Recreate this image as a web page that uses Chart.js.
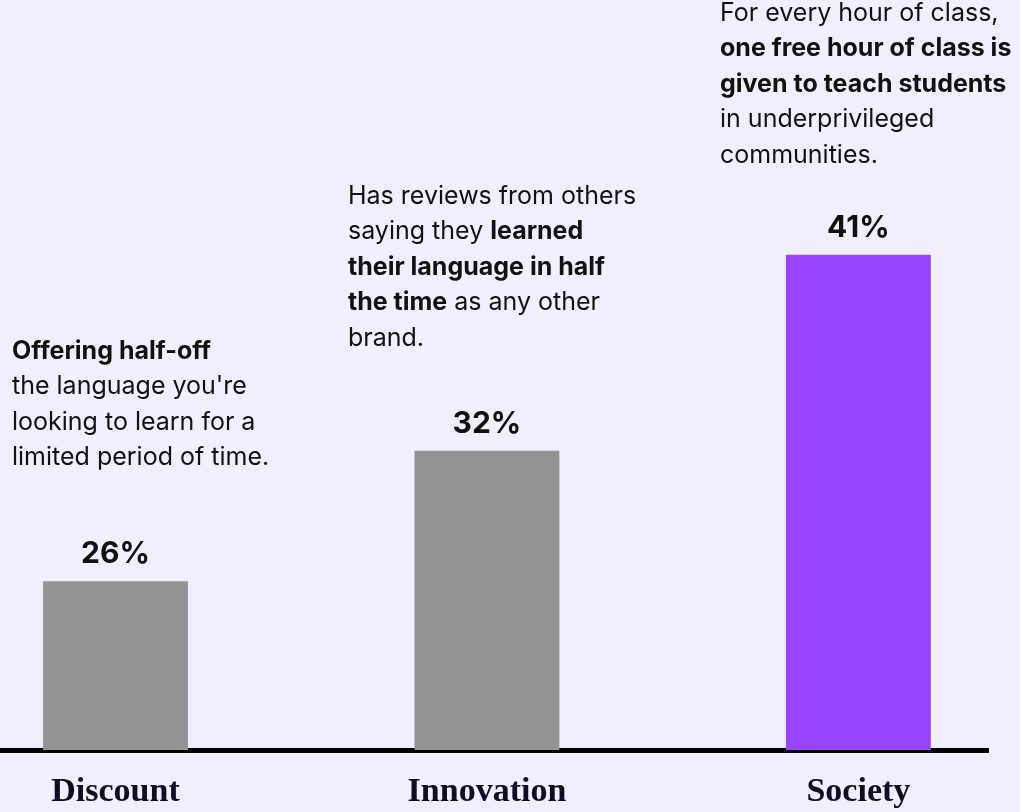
<!DOCTYPE html>
<html>
<head>
<meta charset="utf-8">
<script src="https://cdn.jsdelivr.net/npm/chart.js@4/dist/chart.umd.min.js"></script>
<style>
  html, body { margin: 0; padding: 0; background: #f1effd; }
  #wrap { width: 1020px; height: 812px; position: relative; }
</style>
</head>
<body>
<div id="wrap"><canvas id="chart"></canvas></div>
<script>
const categories = ['Discount', 'Innovation', 'Society']
const shares = [26, 32, 41]
const barColors = ['#939393', '#939393', '#9945ff']

// text above each bar, ** toggles bold
const notes = [
    ['**Offering half-off**', "the language you're", 'looking to learn for a', 'limited period of time.'],
    ['Has reviews from others', 'saying they **learned**', '**their language in half**', '**the time** as any other', 'brand.'],
    ['For every hour of class,', '**one free hour of class is**', '**given to teach students**', 'in underprivileged', 'communities.']
]

const SANS = 'Inter, "Noto Sans", sans-serif'

function drawRich(ctx, line, x, y, size) {
    let bold = false
    line.split('**').forEach(part => {
        if (part) {
            ctx.font = (bold ? '700 ' : '400 ') + size + 'px ' + SANS
            ctx.fillText(part, x, y)
            x += ctx.measureText(part).width
        }
        bold = !bold
    })
}

const barTexts = {
    id: 'barTexts',
    afterDatasetsDraw(chart, args, opts) {
        const ctx = chart.ctx
        const meta = chart.getDatasetMeta(0)
        ctx.save()
        ctx.fillStyle = '#111111'
        ctx.textBaseline = 'alphabetic'

        // percentages sit just above the bars
        ctx.textAlign = 'center'
        ctx.font = '700 30px ' + SANS
        meta.data.forEach((bar, i) => {
            ctx.fillText(shares[i] + '%', bar.x, bar.y - 18)
        })

        // longer descriptions
        ctx.textAlign = 'left'
        notes.forEach((lines, i) => {
            const place = opts.places[i]
            lines.forEach((line, j) => {
                drawRich(ctx, line, place.x, place.y + j * opts.lineHeight, opts.size)
            })
        })
        ctx.restore()
    }
}

new Chart(document.getElementById('chart'), {
    type: 'bar',
    data: {
        datasets: [{
            data: shares.map((v, i) => ({ x: i, y: v })),
            backgroundColor: barColors,
            borderWidth: 0,
            categoryPercentage: 1,
            barPercentage: 0.39
        }]
    },
    options: {
        responsive: true,
        maintainAspectRatio: false,
        animation: false,
        layout: { padding: { left: 0, right: 32, top: 0, bottom: 0 } },
        plugins: {
            legend: { display: false },
            tooltip: { enabled: false },
            barTexts: {
                size: 25,
                lineHeight: 35.4,
                places: [
                    { x: 12, y: 359 },
                    { x: 348, y: 204 },
                    { x: 720, y: 21 }
                ]
            }
        },
        scales: {
            x: {
                type: 'linear',
                offset: false,
                min: -0.311,
                max: 2.349,
                z: 1,
                afterBuildTicks: scale => {
                    scale.ticks = categories.map((c, i) => ({ value: i }))
                },
                afterFit: scale => { scale.height = 62 },
                grid: { display: false, drawTicks: false, offset: false },
                border: { display: true, color: '#000000', width: 5 },
                ticks: {
                    padding: 22,
                    color: '#0f0d26',
                    font: { family: '"Liberation Serif", "DejaVu Serif", serif', size: 34, weight: 'bold' },
                    callback: v => categories[v]
                }
            },
            y: {
                display: false,
                min: 18.25,
                max: 52.7
            }
        }
    },
    plugins: [barTexts]
})
</script>
</body>
</html>
